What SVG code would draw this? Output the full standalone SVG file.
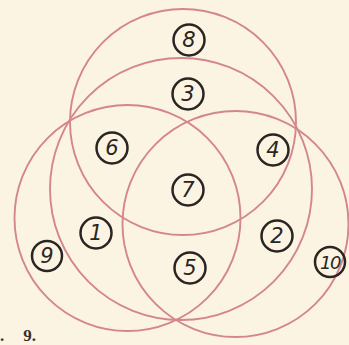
<svg xmlns="http://www.w3.org/2000/svg" width="349" height="345" viewBox="0 0 349 345">
<style>
.arc{fill:none;stroke:#d4868f;stroke-width:1.9}
.lab circle{fill:none;stroke:#2b2522;stroke-width:2.5}
.lab text{font-family:"DejaVu Sans",sans-serif;font-style:italic;font-size:21px;fill:#2b2522;text-anchor:middle;dominant-baseline:central}
.cap{font-family:"Liberation Serif",serif;font-weight:bold;font-size:17px;fill:#3a2e28}
</style>
<rect width="349" height="345" fill="#fbf4e3"/>
<g id="connectors">
<circle class="arc" cx="183" cy="122" r="113"/>
<circle class="arc" cx="127.5" cy="218" r="113"/>
<circle class="arc" cx="235.5" cy="224" r="113"/>
<circle class="arc" cx="181" cy="189" r="131"/>
</g>
<g id="n8" class="lab"><circle cx="189" cy="40" r="15.5"/><text x="189" y="40">8</text></g>
<g id="n3" class="lab"><circle cx="188" cy="94" r="15.5"/><text x="188" y="94">3</text></g>
<g id="n6" class="lab"><circle cx="112" cy="148" r="15.5"/><text x="112" y="148">6</text></g>
<g id="n4" class="lab"><circle cx="273" cy="150" r="15.5"/><text x="273" y="150">4</text></g>
<g id="n7" class="lab"><circle cx="188" cy="190" r="15.5"/><text x="188" y="190">7</text></g>
<g id="n1" class="lab"><circle cx="96" cy="233" r="15.5"/><text x="96" y="233">1</text></g>
<g id="n2" class="lab"><circle cx="277" cy="236" r="15.5"/><text x="277" y="236">2</text></g>
<g id="n5" class="lab"><circle cx="190" cy="268" r="15.5"/><text x="190" y="268">5</text></g>
<g id="n9" class="lab"><circle cx="47" cy="256" r="15"/><text x="47" y="256">9</text></g>
<g id="n10" class="lab"><circle cx="330" cy="262" r="15"/><text x="330" y="262" style="font-size:18px;letter-spacing:-1.5px">10</text></g>
<text class="cap" x="0" y="341">.<tspan dx="19">9.</tspan></text>
</svg>
